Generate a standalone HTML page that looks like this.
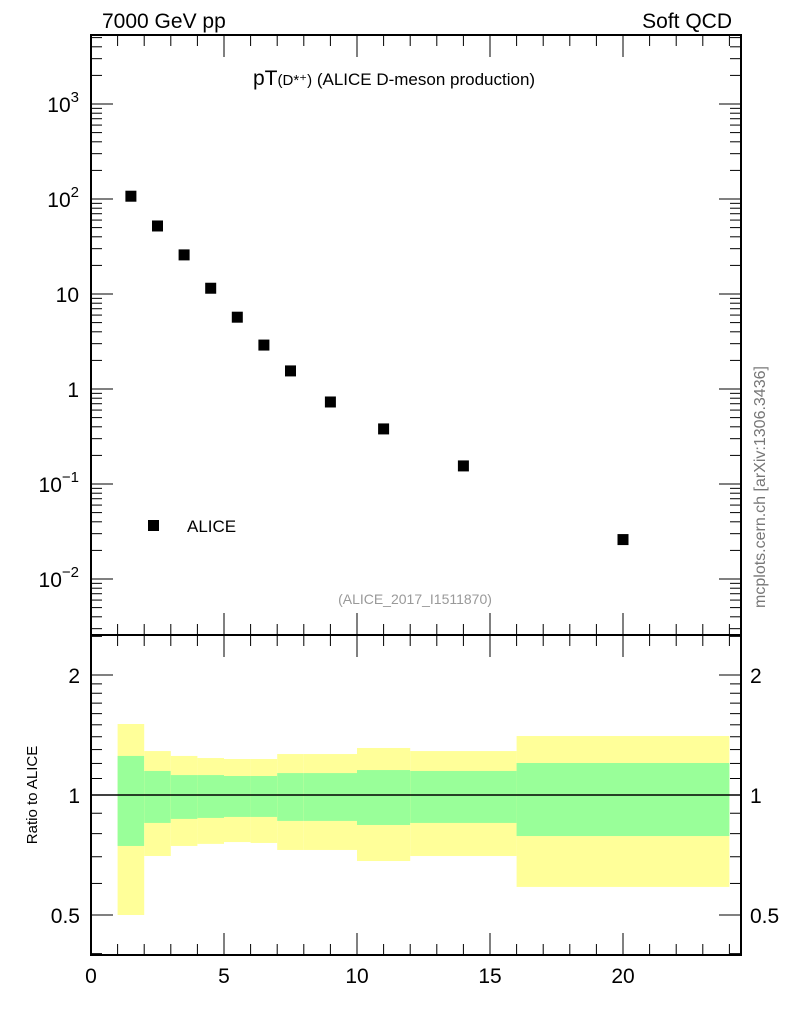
<!DOCTYPE html>
<html><head><meta charset="utf-8"><style>
body{margin:0;background:#fff}
svg{display:block;font-family:"Liberation Sans",sans-serif}
</style></head><body>
<svg id="c" width="786" height="1024" viewBox="0 0 786 1024" xmlns="http://www.w3.org/2000/svg">
<text x="102" y="28" font-size="21">7000 GeV pp</text>
<text x="732" y="28" font-size="21" text-anchor="end">Soft QCD</text>
<text x="253" y="85" font-size="21">pT<tspan font-size="15">(D*⁺)</tspan><tspan font-size="17"> (ALICE D-meson production)</tspan></text>
<rect x="148" y="520" width="11" height="11" fill="#000"/>
<text x="187" y="532" font-size="17">ALICE</text>
<text x="415" y="604" font-size="14" fill="#999" text-anchor="middle">(ALICE_2017_I1511870)</text>
<text transform="translate(37,795) rotate(-90)" font-size="15" text-anchor="middle">Ratio to ALICE</text>
<text transform="translate(765,487) rotate(-90)" font-size="16" fill="#777" text-anchor="middle">mcplots.cern.ch [arXiv:1306.3436]</text>
</svg>
<script>
const xCenters=[1.5,2.5,3.5,4.5,5.5,6.5,7.5,9,11,14,20];
const yValues=[107,52,25.8,11.5,5.7,2.9,1.55,0.73,0.38,0.155,0.026];
const binEdges=[1,2,3,4,5,6,7,8,10,12,16,24];
const yellowHi=[1.507,1.289,1.253,1.238,1.231,1.231,1.267,1.267,1.312,1.289,1.406];
const yellowLo=[0.50,0.703,0.745,0.754,0.762,0.758,0.728,0.728,0.683,0.703,0.588];
const greenHi=[1.253,1.149,1.122,1.122,1.116,1.116,1.135,1.135,1.155,1.149,1.203];
const greenLo=[0.745,0.851,0.871,0.876,0.881,0.881,0.861,0.861,0.841,0.851,0.789];
const xTicks=[0,5,10,15,20];
const ratioTicks=[0.5,1,2];

const svg=document.getElementById('c');
const NS='http://www.w3.org/2000/svg';
const L=91,R=741,T=35,M=635,B=955;
const X=v=>L+v*26.6;
const Y=v=>389-95*Math.log10(v);
const RY=v=>795-120*Math.log2(v);
function mk(tag,a,parent){const e=document.createElementNS(NS,tag);for(const k in a)e.setAttribute(k,a[k]);(parent||svg).appendChild(e);return e;}
function line(x1,y1,x2,y2,w,g){return mk('line',{x1,y1,x2,y2,stroke:'#000','stroke-width':w||1},g);}
function txt(x,y,s,a,g){const t=mk('text',Object.assign({x,y,'font-size':21,fill:'#000'},a||{}),g);t.textContent=s;return t;}

const bands=mk('g',{});


for(let i=0;i<binEdges.length-1;i++){
  const x1=X(binEdges[i]),x2=X(binEdges[i+1]);
  const y=mk('rect',{x:x1,y:RY(yellowHi[i]),width:x2-x1,height:RY(yellowLo[i])-RY(yellowHi[i]),fill:'#ffff99'},bands);
  
  
  const g=mk('rect',{x:x1,y:RY(greenHi[i]),width:x2-x1,height:RY(greenLo[i])-RY(greenHi[i]),fill:'#99ff99'},bands);
  
  
}
line(L,RY(1),R,RY(1),1.5);

for(let i=0;i<xCenters.length;i++){
  const r=mk('rect',{x:X(xCenters[i])-5.5,y:Y(yValues[i])-5.5,width:11,height:11,fill:'#000'});
  
  
}

const fr=mk('g',{fill:'none',stroke:'#000','stroke-width':2});


mk('rect',{x:L,y:T,width:R-L,height:M-T},fr);
mk('rect',{x:L,y:M,width:R-L,height:B-M},fr);

for(let v=0;v<=24;v++){
  const maj=v%5===0, len=maj?22:11;
  line(X(v),T,X(v),T+len,1);line(X(v),M,X(v),M-len,1);
  line(X(v),M,X(v),M+len,1);line(X(v),B,X(v),B-len,1);
}
xTicks.forEach(v=>{const t=txt(X(v),983,String(v),{'text-anchor':'middle'});
  
  });

for(let d=-3;d<=3;d++){for(let m=1;m<10;m++){
  const v=m*Math.pow(10,d),y=Y(v); if(y<T||y>M)continue;
  const len=m===1?22:11; line(L,y,L+len,y,1);line(R,y,R-len,y,1);
}}
const ylabs=[[1000,'10','3'],[100,'10','2'],[10,'10',''],[1,'1',''],[0.1,'10','−1'],[0.01,'10','−2']];
ylabs.forEach(a=>{
  const y=Y(a[0])+8;
  const t=txt(79,y,a[1],{'text-anchor':'end'});
  
  
  if(a[2]){const s=mk('tspan',{dy:-10,'font-size':15},t);s.textContent=a[2];}
});
for(let k=4;k<=25;k++){const v=k/10;if(k>20&&k!=25)continue;const y=RY(v);if(y<M||y>B)continue;
  const len=(k===5||k===10||k===20)?22:11;line(L,y,L+len,y,1);line(R,y,R-len,y,1);}
ratioTicks.forEach(v=>{const y=RY(v)+8;
  const t=txt(80,y,String(v),{'text-anchor':'end'});
  
  
  const t2=txt(750,y,String(v),{'text-anchor':'start'});
  
  });
</script>
</body></html>
